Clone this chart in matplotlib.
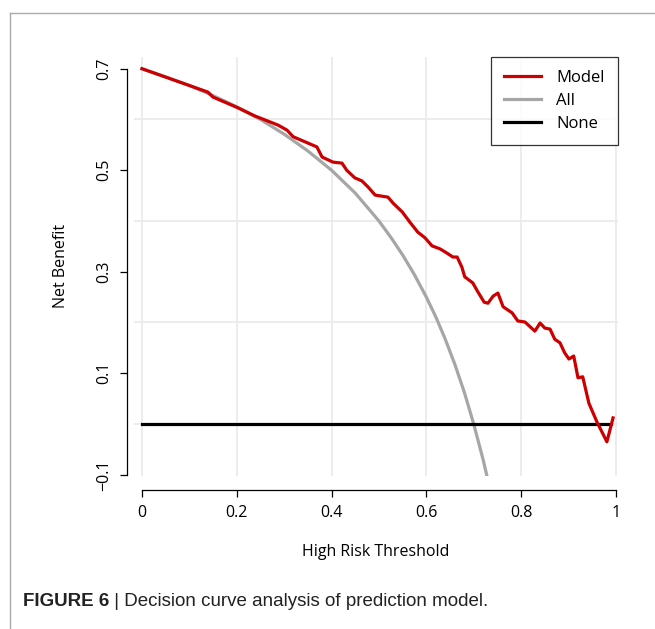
#!/usr/bin/env python3
"""Decision curve analysis figure (Model / All / None)."""

import matplotlib
matplotlib.use("Agg")
import matplotlib.pyplot as plt
from matplotlib.lines import Line2D

plt.rcParams["font.family"] = ["Open Sans", "DejaVu Sans"]

# Model net benefit
model_thr = [0.000, 0.139, 0.150, 0.200, 0.238, 0.287, 0.306, 0.319, 0.344, 0.369,
             0.380, 0.403, 0.422, 0.432, 0.449, 0.464, 0.477, 0.492, 0.519, 0.530,
             0.549, 0.565, 0.582, 0.597, 0.612, 0.629, 0.643, 0.656, 0.665, 0.675,
             0.681, 0.698, 0.709, 0.722, 0.730, 0.741, 0.751, 0.762, 0.781, 0.793,
             0.808, 0.829, 0.840, 0.850, 0.861, 0.871, 0.882, 0.892, 0.901, 0.911,
             0.920, 0.930, 0.943, 0.960, 0.981, 0.994]
model_nb = [0.700, 0.654, 0.644, 0.624, 0.607, 0.589, 0.579, 0.566, 0.556, 0.546,
            0.526, 0.516, 0.514, 0.500, 0.485, 0.479, 0.467, 0.451, 0.447, 0.435,
            0.418, 0.398, 0.378, 0.367, 0.351, 0.345, 0.337, 0.329, 0.329, 0.309,
            0.290, 0.278, 0.260, 0.240, 0.238, 0.252, 0.258, 0.231, 0.219, 0.203,
            0.201, 0.183, 0.199, 0.189, 0.187, 0.167, 0.160, 0.140, 0.128, 0.134,
            0.091, 0.093, 0.041, 0.004, -0.035, 0.012]

# Treat-all curve
all_thr = [0.00, 0.05, 0.10, 0.15, 0.20, 0.25, 0.30, 0.35, 0.40, 0.45, 0.50,
           0.525, 0.55, 0.575, 0.60, 0.62, 0.64, 0.66, 0.68, 0.70, 0.72, 0.73]
all_nb = [0.700, 0.684, 0.667, 0.647, 0.625, 0.600, 0.571, 0.538, 0.500, 0.455, 0.400,
          0.368, 0.333, 0.294, 0.250, 0.211, 0.167, 0.118, 0.063, 0.000, -0.071, -0.111]

# Treat-none curve
none_thr = [0.0, 0.99]
none_nb = [0.0, 0.0]

x_ticks = [0, 0.2, 0.4, 0.6, 0.8, 1.0]
x_labels = ["0", "0.2", "0.4", "0.6", "0.8", "1"]
y_ticks = [-0.1, 0.1, 0.3, 0.5, 0.7]
y_labels = ["\u22120.1", "0.1", "0.3", "0.5", "0.7"]
grid_x = [0, 0.2, 0.4, 0.6, 0.8, 1.0]
grid_y = [0, 0.2, 0.4, 0.6]

W, H = 655, 629
fig = plt.figure(figsize=(W / 100, H / 100), dpi=100)
ax = fig.add_axes([0.2052, 0.2428, 0.738, 0.6673])
ax.set_xlim(-0.016, 1.004)
ax.set_ylim(-0.103, 0.724)

for gx in grid_x:
    ax.axvline(gx, color="#ebebeb", lw=1.3, zorder=0)
for gy in grid_y:
    ax.axhline(gy, color="#ebebeb", lw=1.3, zorder=0)

ax.plot(all_thr, all_nb, color="#a6a6a6", lw=2.3, label="All", zorder=2)
ax.plot(none_thr, none_nb, color="black", lw=2.3, label="None", zorder=2)
ax.plot(model_thr, model_nb, color="#cc0000", lw=2.3, label="Model", zorder=3,
        solid_joinstyle="round")

for side in ("top", "right"):
    ax.spines[side].set_visible(False)
ax.spines["left"].set_position(("outward", 5.3))
ax.spines["bottom"].set_position(("outward", 9.9))
ax.spines["left"].set_bounds(-0.1, 0.7)
ax.spines["bottom"].set_bounds(0, 1)
for side in ("left", "bottom"):
    ax.spines[side].set_linewidth(0.9)

ax.set_xticks(x_ticks)
ax.set_xticklabels(x_labels)
ax.set_yticks(y_ticks)
ax.set_yticklabels(y_labels, rotation=90, va="center")
ax.tick_params(length=5, width=0.9, labelsize=11.5, pad=6)

ax.set_xlabel("High Risk Threshold", fontsize=11.5, labelpad=16)
ax.set_ylabel("Net Benefit", fontsize=11.5, labelpad=19)

handles, labels = ax.get_legend_handles_labels()
order = [labels.index(n) for n in ("Model", "All", "None")]
leg = ax.legend([handles[i] for i in order], [labels[i] for i in order],
                loc="upper right", bbox_to_anchor=(1.0, 1.0), borderaxespad=0,
                fontsize=12, frameon=True, fancybox=False, edgecolor="black",
                handlelength=2.2, handletextpad=0.9, labelspacing=0.42, borderpad=0.8)
leg.get_frame().set_linewidth(0.9)

# outer frame lines (top and left)
fig.add_artist(Line2D([10 / W, 1.0], [1 - 13 / H, 1 - 13 / H], color="#aaaaaa", lw=1))
fig.add_artist(Line2D([10 / W, 10 / W], [0.0, 1 - 13 / H], color="#aaaaaa", lw=1))

cap_font = ["Liberation Sans", "DejaVu Sans"]
bold = fig.text(23 / W, 1 - 601 / H, "FIGURE 6", fontsize=13.5, fontweight="bold",
                family=cap_font, va="center", ha="left", color="#222222")
fig.canvas.draw()
bb = bold.get_window_extent()
fig.text(bb.x1 / W, 1 - 601 / H, " | Decision curve analysis of prediction model.",
         fontsize=13.5, family=cap_font, va="center", ha="left", color="#222222")

fig.savefig("out.png", dpi=100)
